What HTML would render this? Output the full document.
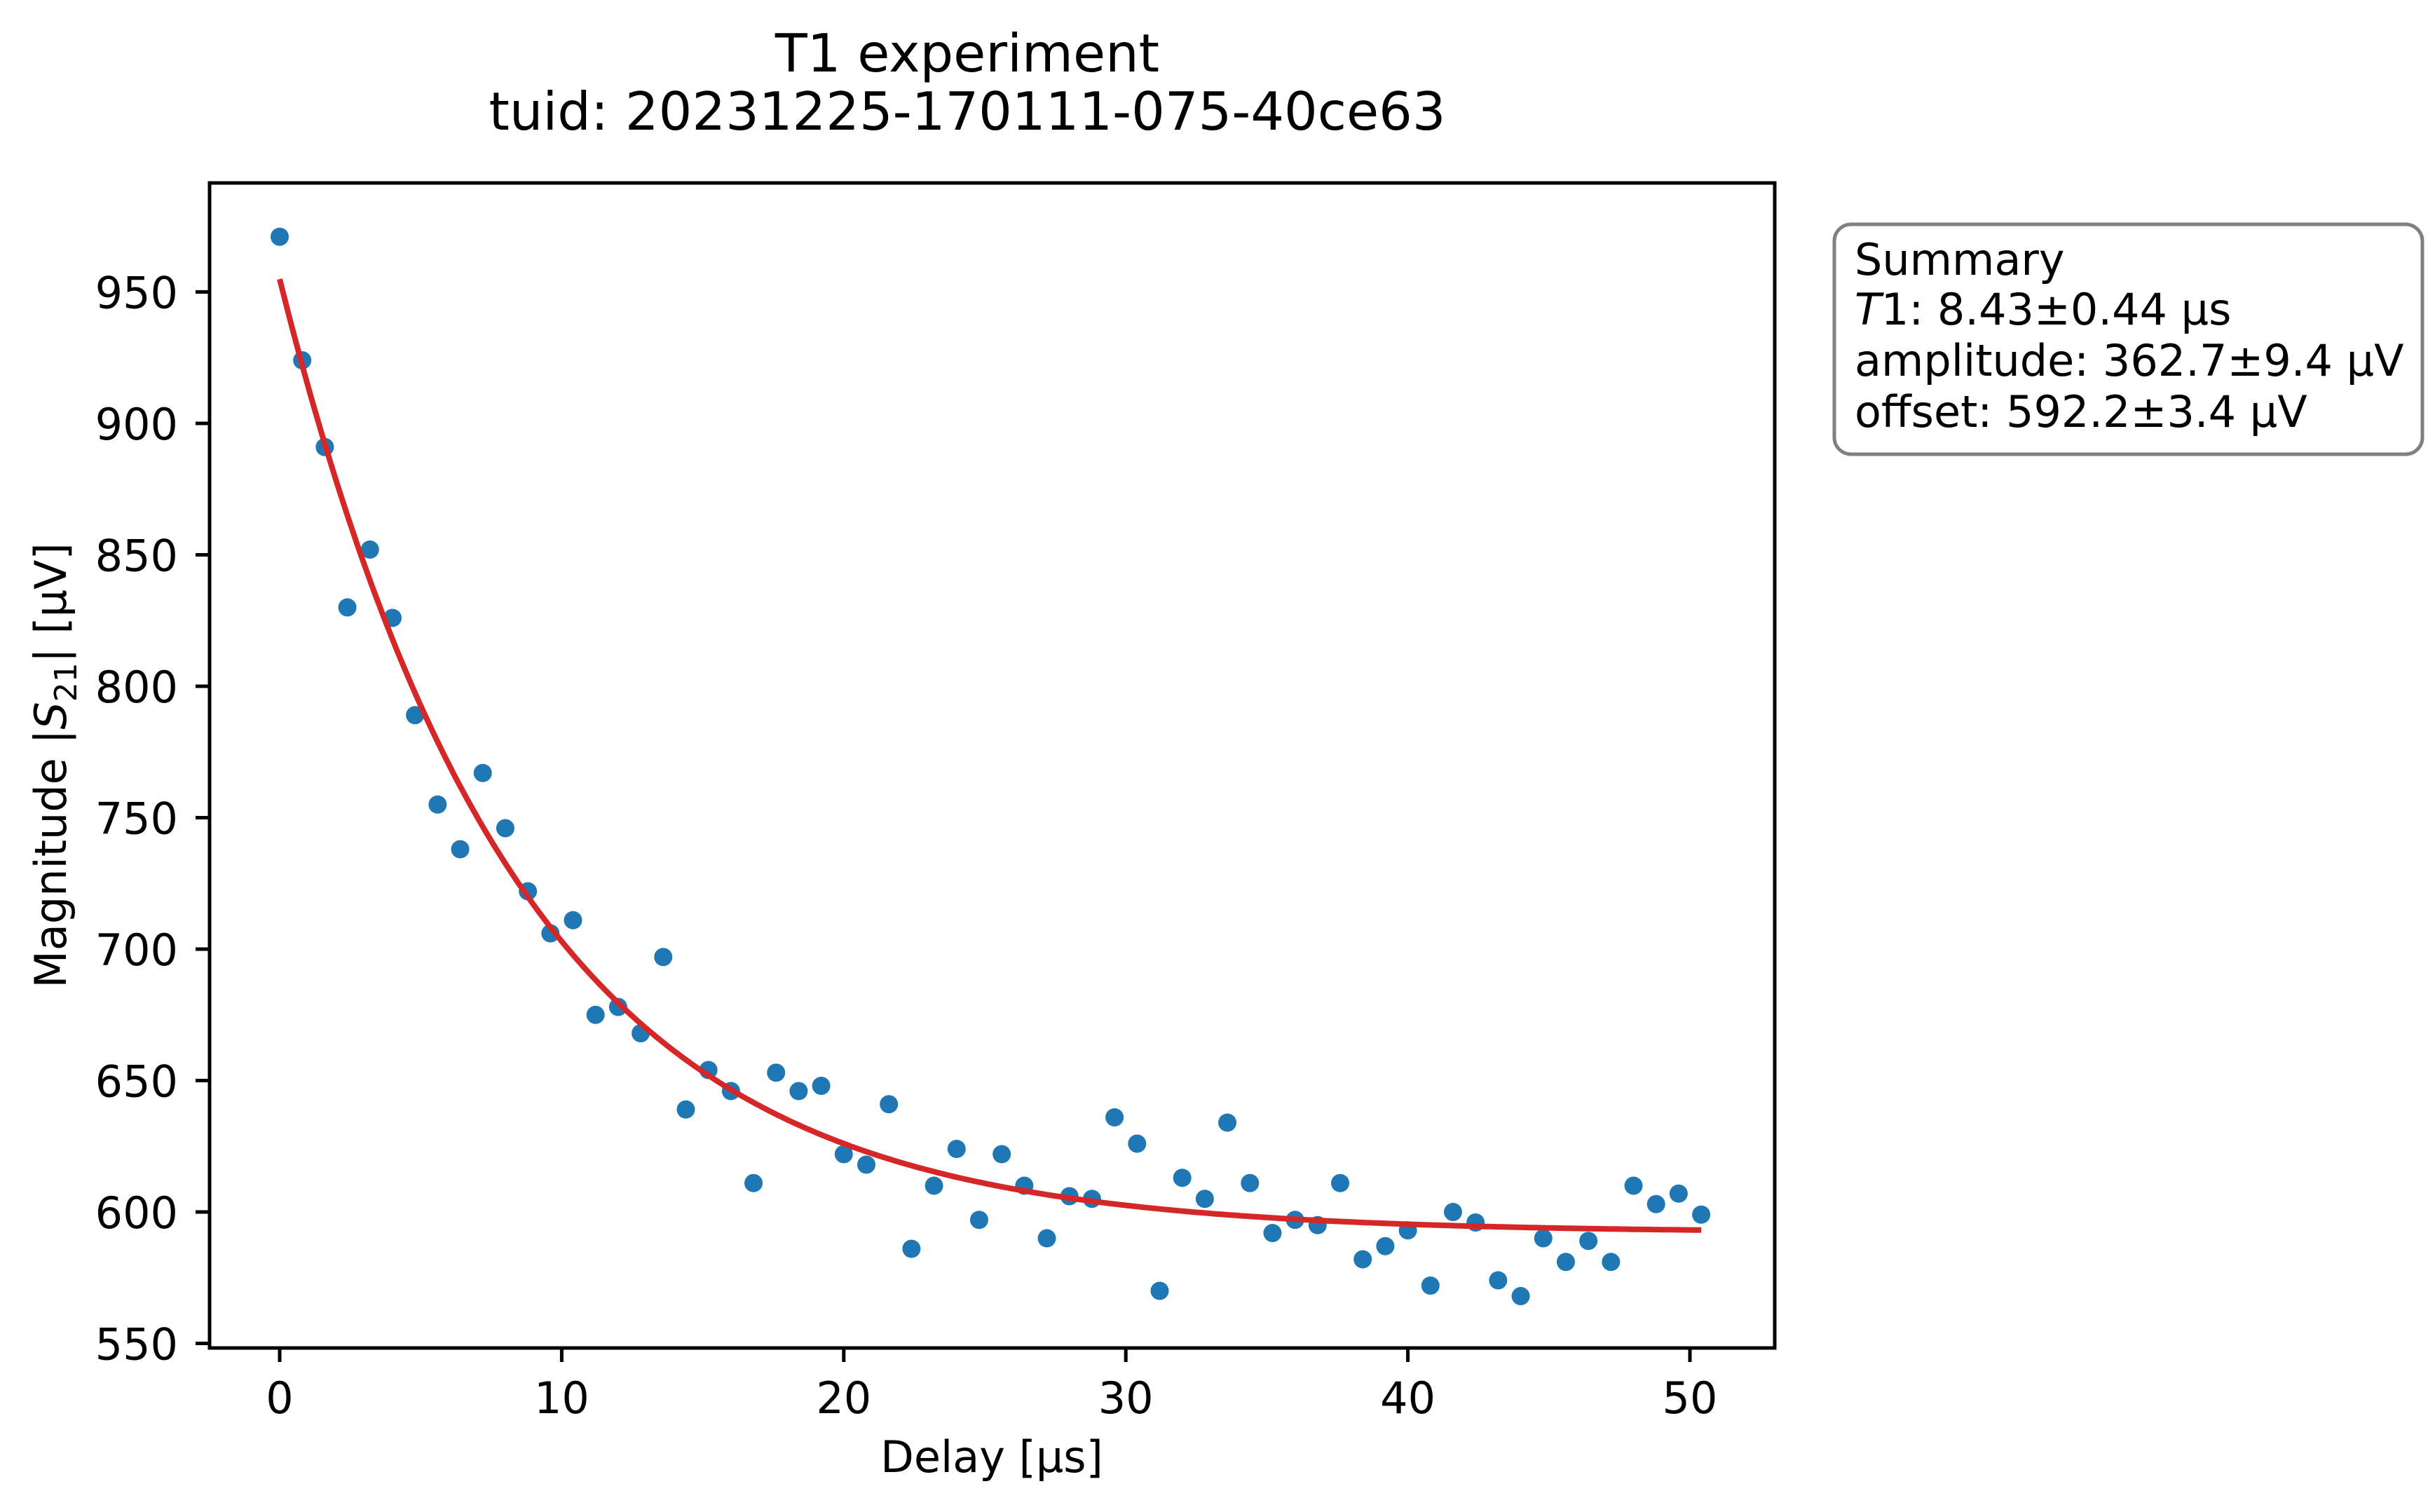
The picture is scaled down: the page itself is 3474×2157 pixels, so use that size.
<!DOCTYPE html>
<html><head><meta charset="utf-8"><style>
html,body{margin:0;padding:0;background:#fff}
svg{display:block;font-family:"DejaVu Sans","Liberation Sans",sans-serif}
</style></head><body>
<svg id="chart" width="3474" height="2157" viewBox="0 0 3474 2157" xmlns="http://www.w3.org/2000/svg">
<rect width="3474" height="2157" fill="#fff"/>
<text x="1380" y="102" font-size="75" text-anchor="middle">T1 experiment</text>
<text x="1380" y="185" font-size="75" text-anchor="middle">tuid: 20231225-170111-075-40ce63</text>
<g id="plot"></g>
<rect x="299" y="261" width="2233" height="1662" fill="none" stroke="#000" stroke-width="5"/>
<text x="1415" y="2100" font-size="62" text-anchor="middle">Delay [µs]</text>
<text transform="translate(94,1092) rotate(-90)" font-size="62" text-anchor="middle">Magnitude |<tspan font-style="italic">S</tspan><tspan font-size="44" dy="15">21</tspan><tspan dy="-15">| [µV]</tspan></text>
<g>
<rect x="2617" y="320" width="839" height="328" rx="24" fill="#fff" stroke="#808080" stroke-width="5"/>
<text x="2646" y="392" font-size="62">Summary</text>
<text x="2646" y="463" font-size="62"><tspan font-style="italic">T</tspan>1: 8.43±0.44 µs</text>
<text x="2646" y="536" font-size="62">amplitude: 362.7±9.4 µV</text>
<text x="2646" y="609" font-size="62">offset: 592.2±3.4 µV</text>
</g>
</svg>
<script>
const delays = [0,0.8,1.6,2.4,3.2,4.0,4.8,5.6,6.4,7.2,8.0,8.8,9.6,10.4,11.2,12.0,12.8,13.6,14.4,15.2,16.0,16.8,17.6,18.4,19.2,20.0,20.8,21.6,22.4,23.2,24.0,24.8,25.6,26.4,27.2,28.0,28.8,29.6,30.4,31.2,32.0,32.8,33.6,34.4,35.2,36.0,36.8,37.6,38.4,39.2,40.0,40.8,41.6,42.4,43.2,44.0,44.8,45.6,46.4,47.2,48.0,48.8,49.6,50.4];
const magnitudes = [971,924,891,830,852,826,789,755,738,767,746,722,706,711,675,678,668,697,639,654,646,611,653,646,648,622,618,641,586,610,624,597,622,610,590,606,605,636,626,570,613,605,634,611,592,597,595,611,582,587,593,572,600,596,574,568,590,581,589,581,610,603,607,599];
const fitT1 = 8.43, fitAmplitude = 362.7, fitOffset = 592.2;
const xTicks = [0,10,20,30,40,50];
const yTicks = [550,600,650,700,750,800,850,900,950];

const NS = "http://www.w3.org/2000/svg";
const X0 = 299, X1 = 2532, Y0 = 261, Y1 = 1923;
const xs = v => 399 + (v - 0) * (2411 - 399) / 50;
const ys = v => 1916.5 - (v - 550) * (1916.5 - 416.5) / 400;
const svg = document.getElementById('chart');
const plot = document.getElementById('plot');
function mk(tag, attrs, parent){const e=document.createElementNS(NS,tag);for(const k in attrs)e.setAttribute(k,attrs[k]);(parent||svg).appendChild(e);return e;}

xTicks.forEach(t=>{
  const l = mk('line',{x1:xs(t),x2:xs(t),y1:Y1,y2:Y1+20,stroke:'#000','stroke-width':5});
  
  
  const tx = mk('text',{x:xs(t),y:2016,'font-size':62,'text-anchor':'middle'});
  tx.textContent = t;
  
  
});
yTicks.forEach(t=>{
  const l = mk('line',{x1:X0-20,x2:X0,y1:ys(t),y2:ys(t),stroke:'#000','stroke-width':5});
  
  
  const tx = mk('text',{x:254,y:ys(t)+23,'font-size':62,'text-anchor':'end'});
  tx.textContent = t;
  
  
});
delays.forEach((d,i)=>{
  const c = mk('circle',{cx:xs(d),cy:ys(magnitudes[i]),r:13,fill:'#1f77b4'},plot);
  
  
});
let pts=[];
const tMax = delays[delays.length-1];
for(let k=0;k<=400;k++){const t=tMax*k/400;pts.push(xs(t).toFixed(1)+','+ys(fitOffset+fitAmplitude*Math.exp(-t/fitT1)).toFixed(1));}
const fit = mk('polyline',{points:pts.join(' '),fill:'none',stroke:'#d62728','stroke-width':8},plot);


</script>
</body></html>
